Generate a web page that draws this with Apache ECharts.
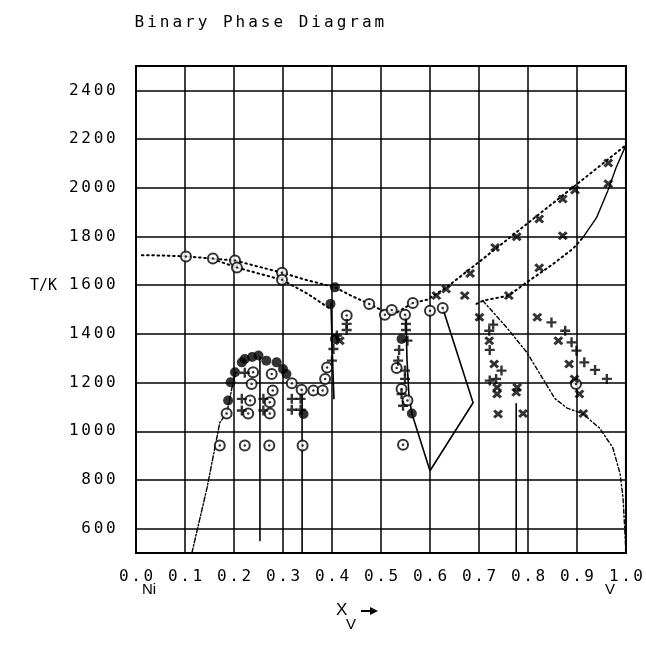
<!DOCTYPE html>
<html>
<head>
<meta charset="utf-8">
<script src="https://cdn.jsdelivr.net/npm/echarts@6/dist/echarts.min.js"></script>
<style>
  html, body { margin: 0; padding: 0; background: #fff; }
  #chart { width: 646px; height: 660px; }
</style>
</head>
<body>
<div id="chart"></div>
<script>
// Axis ticks
const xTicks = [0, 0.1, 0.2, 0.3, 0.4, 0.5, 0.6, 0.7, 0.8, 0.9, 1.0];
const tempTicks = [600, 800, 1000, 1200, 1400, 1600, 1800, 2000, 2200, 2400];

// Calculated phase boundaries: [x_V, T/K]
const liquidus = [[0.012, 1723], [0.05, 1722], [0.102, 1718], [0.157, 1709], [0.202, 1701], [0.25, 1676],
  [0.298, 1651], [0.35, 1620], [0.406, 1591], [0.44, 1556], [0.476, 1523], [0.508, 1490], [0.53, 1485],
  [0.565, 1527], [0.594, 1540], [0.633, 1590], [0.70, 1695], [0.80, 1855], [0.90, 2015], [1.0, 2175]];
const fccSolidus = [[0.157, 1707], [0.206, 1672], [0.25, 1648], [0.298, 1622], [0.35, 1565], [0.396, 1503]];
const bccSolidusLow = [[0.695, 1523], [0.708, 1536], [0.76, 1557], [0.80, 1615], [0.85, 1685], [0.892, 1750], [0.912, 1795]];
const bccSolidusHigh = [[0.912, 1795], [0.94, 1877], [0.963, 1988], [0.98, 2083], [1.0, 2175]];
const bccSolvus = [[0.708, 1536], [0.757, 1425], [0.798, 1323], [0.855, 1134], [0.88, 1095], [0.912, 1072],
  [0.947, 1011], [0.973, 933], [0.988, 826], [0.994, 727], [0.998, 580], [1.0, 500]];
const fccSolvus = [[0.114, 500], [0.145, 768], [0.171, 1035], [0.186, 1080], [0.196, 1180], [0.205, 1250]];
const ni3vLine = [[0.253, 1305], [0.253, 551]];
const ni2vLine = [[0.339, 1167], [0.339, 500]];
const vRichLine = [[0.776, 1113], [0.776, 500]];
const sigmaLeft = [[0.398, 1523], [0.401, 1300], [0.404, 1134]];
const sigmaRight = [[0.551, 1478], [0.553, 1300], [0.557, 1150], [0.563, 1073], [0.600, 838], [0.688, 1117], [0.626, 1506]];

// Experimental points: [x_V, T/K]
const ringPoints = [[0.102, 1718], [0.157, 1709], [0.202, 1701], [0.206, 1672], [0.298, 1651], [0.298, 1622],
  [0.476, 1523], [0.508, 1478], [0.522, 1498], [0.565, 1527], [0.600, 1495], [0.626, 1506],
  [0.185, 1073], [0.239, 1242], [0.236, 1194], [0.277, 1235], [0.279, 1167], [0.233, 1126], [0.229, 1073],
  [0.273, 1119], [0.273, 1073], [0.318, 1197], [0.338, 1170], [0.362, 1167], [0.381, 1167], [0.386, 1215],
  [0.390, 1262], [0.430, 1475], [0.171, 941], [0.222, 941], [0.272, 941], [0.340, 941], [0.545, 945],
  [0.549, 1478], [0.532, 1260], [0.542, 1174], [0.554, 1126], [0.898, 1194]];
const filledPoints = [[0.188, 1126], [0.193, 1201], [0.202, 1242], [0.216, 1283], [0.222, 1297], [0.237, 1305],
  [0.250, 1311], [0.266, 1290], [0.287, 1283], [0.300, 1256], [0.307, 1235], [0.342, 1071], [0.397, 1523],
  [0.406, 1591], [0.406, 1379], [0.563, 1073], [0.542, 1379]];
const plusPoints = [[0.216, 1133], [0.216, 1085], [0.260, 1133], [0.260, 1085], [0.318, 1133], [0.318, 1088],
  [0.336, 1133], [0.336, 1088], [0.222, 1240], [0.400, 1290], [0.403, 1338], [0.410, 1393], [0.430, 1441],
  [0.430, 1416], [0.551, 1441], [0.551, 1416], [0.554, 1372], [0.537, 1334], [0.535, 1290], [0.549, 1249],
  [0.549, 1215], [0.542, 1153], [0.545, 1105], [0.729, 1438], [0.721, 1413], [0.722, 1334], [0.746, 1249],
  [0.722, 1208], [0.735, 1215], [0.848, 1447], [0.876, 1413], [0.889, 1365], [0.899, 1331], [0.915, 1283],
  [0.937, 1252], [0.961, 1215]];
const crossPoints = [[0.613, 1557], [0.633, 1584], [0.682, 1648], [0.671, 1557], [0.761, 1557], [0.701, 1468],
  [0.721, 1372], [0.731, 1276], [0.737, 1180], [0.737, 1153], [0.739, 1071], [0.778, 1180], [0.776, 1160],
  [0.790, 1073], [0.819, 1468], [0.862, 1372], [0.884, 1276], [0.895, 1215], [0.905, 1153], [0.913, 1073],
  [0.733, 1755], [0.777, 1799], [0.823, 1872], [0.871, 1954], [0.896, 1991], [0.964, 2102], [0.964, 2016],
  [0.871, 1803], [0.823, 1671], [0.416, 1372]];

const MONO = 'DejaVu Sans Mono';
const SANS = 'Liberation Sans';

// Plotter-style lettering: every character becomes its own rich token so it can be spaced out
const spaced = s => s.split('').map(ch => '{c|' + ch + '}').join('');
const plotterRich = (size, gap) => ({ c: { fontFamily: MONO, fontSize: size, color: '#000', padding: [0, gap, 0, gap] } });

const PLUS = 'path://M3.8,0H6.2V3.8H10V6.2H6.2V10H3.8V6.2H0V3.8H3.8Z';
const CROSS = 'path://M0,2.2L2.2,0L5,2.8L7.8,0L10,2.2L7.2,5L10,7.8L7.8,10L5,7.2L2.2,10L0,7.8L2.8,5Z';

function curve(name, data, type, width) {
  return {
    type: 'line', name, data, symbol: 'none', silent: true, clip: true, z: 3,
    lineStyle: { color: '#000', width: width || 1.4, type: type || 'solid', cap: 'round' }
  };
}
function marks(name, data, symbol, size, itemStyle, z) {
  return { type: 'scatter', name, data, symbol, symbolSize: size, silent: true, z: z || 5, itemStyle };
}

const chart = echarts.init(document.getElementById('chart'), null, { renderer: 'canvas' });
chart.setOption({
  animation: false,
  backgroundColor: '#fff',
  title: {
    text: spaced('Binary Phase Diagram'),
    left: 128, top: 10,
    textStyle: { fontFamily: MONO, fontSize: 16, fontWeight: 'normal', color: '#000', rich: plotterRich(16, 1.5) }
  },
  grid: { left: 136, right: 20, top: 66, bottom: 107, show: true, borderColor: '#000', borderWidth: 2 },
  xAxis: {
    type: 'value', min: 0, max: 1, interval: 0.1,
    axisLine: { show: false }, axisTick: { show: false },
    splitLine: { show: true, lineStyle: { color: '#000', width: 1.5 } },
    axisLabel: { margin: 16, formatter: v => spaced(v.toFixed(1)), rich: plotterRich(16, 1.3) }
  },
  yAxis: {
    type: 'value', min: 500, max: 2500, interval: 100,
    axisLine: { show: false }, axisTick: { show: false }, splitLine: { show: false },
    axisLabel: {
      margin: 19,
      formatter: v => tempTicks.includes(v) ? spaced(String(v)) : '',
      rich: plotterRich(16, 1.35)
    }
  },
  graphic: [
    { type: 'text', left: 30, top: 279, style: { text: 'T/K', font: '15px "' + MONO + '"', fill: '#000' } },
    { type: 'text', left: 142, top: 582, style: { text: 'Ni', font: '15px "' + SANS + '"', fill: '#000' } },
    { type: 'text', left: 605, top: 582, style: { text: 'V', font: '15px "' + SANS + '"', fill: '#000' } },
    { type: 'text', left: 336, top: 602, style: { text: 'X', font: '17px "' + SANS + '"', fill: '#000' } },
    { type: 'text', left: 346, top: 617, style: { text: 'V', font: '15px "' + SANS + '"', fill: '#000' } },
    { type: 'line', shape: { x1: 361, y1: 611, x2: 372, y2: 611 }, style: { stroke: '#000', lineWidth: 2 } },
    { type: 'polygon', shape: { points: [[370, 607], [378, 611], [370, 615]] }, style: { fill: '#000' } }
  ],
  series: [
    {
      type: 'line', name: 'gridRef', data: [[0, 600]], symbol: 'none', showSymbol: false, silent: true, z: 1,
      lineStyle: { width: 0 },
      markLine: {
        silent: true, symbol: ['none', 'none'], label: { show: false }, animation: false,
        lineStyle: { color: '#000', width: 1.5, type: 'solid' },
        emphasis: { disabled: true },
        data: tempTicks.map(v => ({ yAxis: v }))
      }
    },
    curve('liquidus', liquidus, [1.6, 3.6], 2),
    curve('fccSolidus', fccSolidus, [1.6, 3.6], 2),
    curve('bccSolidusLow', bccSolidusLow, [1.6, 3.6], 2),
    curve('bccSolidusHigh', bccSolidusHigh, 'solid', 1.4),
    curve('bccSolvus', bccSolvus, [4, 2.5, 1.5, 2.5], 1.4),
    curve('fccSolvus', fccSolvus, [5, 2, 1.5, 2], 1.4),
    curve('ni3vLine', ni3vLine, 'solid', 1.6),
    curve('ni2vLine', ni2vLine, 'solid', 1.6),
    curve('vRichLine', vRichLine, 'solid', 1.6),
    curve('sigmaLeft', sigmaLeft, 'solid', 1.6),
    curve('sigmaRight', sigmaRight, 'solid', 1.6),
    marks('ring', ringPoints, 'circle', 10, { color: '#fff', borderColor: '#000', borderWidth: 2 }, 5),
    marks('ringDot', ringPoints, 'circle', 2.5, { color: '#000' }, 6),
    marks('filled', filledPoints, 'circle', 10, { color: '#000' }, 6),
    marks('plus', plusPoints, PLUS, 10, { color: '#000' }, 6),
    marks('cross', crossPoints, CROSS, [10, 9], { color: '#000' }, 6)
  ]
});
</script>
</body>
</html>
